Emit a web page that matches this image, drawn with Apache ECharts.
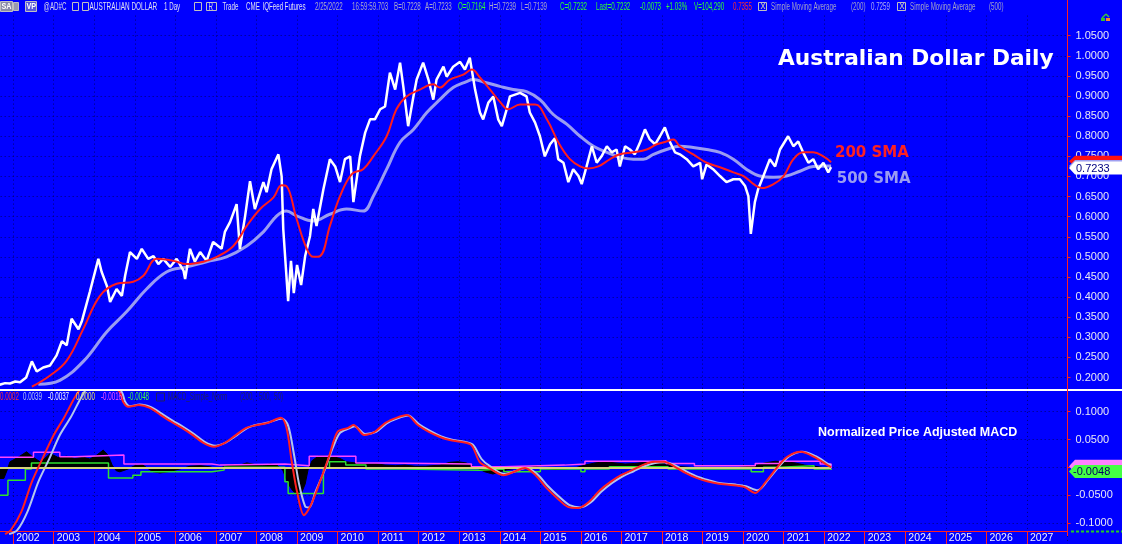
<!DOCTYPE html>
<html><head><meta charset="utf-8">
<script src="https://cdn.jsdelivr.net/npm/echarts@6/dist/echarts.min.js"></script>
<style>html,body{margin:0;padding:0;background:#0000ff;overflow:hidden}#c{width:1122px;height:544px}</style>
</head><body><div id="c"></div>
<script>
// ---------- DATA (decimal year, value) ----------
const price = [[2001.67,0.182],[2001.80,0.186],[2001.92,0.185],[2002.05,0.19],[2002.17,0.188],[2002.32,0.2],[2002.46,0.24],[2002.58,0.215],[2002.74,0.225],[2002.91,0.23],[2003.07,0.255],[2003.20,0.29],[2003.32,0.28],[2003.44,0.346],[2003.61,0.32],[2003.69,0.339],[2003.89,0.413],[2004.10,0.495],[2004.18,0.463],[2004.31,0.428],[2004.39,0.388],[2004.55,0.42],[2004.68,0.403],[2004.76,0.453],[2004.88,0.512],[2005.05,0.495],[2005.17,0.52],[2005.33,0.495],[2005.46,0.502],[2005.58,0.482],[2005.70,0.495],[2005.87,0.475],[2006.03,0.495],[2006.20,0.466],[2006.24,0.445],[2006.36,0.52],[2006.48,0.488],[2006.61,0.512],[2006.77,0.49],[2006.93,0.537],[2007.14,0.52],[2007.22,0.562],[2007.35,0.587],[2007.51,0.631],[2007.59,0.52],[2007.72,0.602],[2007.84,0.688],[2007.96,0.619],[2008.17,0.686],[2008.25,0.661],[2008.37,0.718],[2008.54,0.755],[2008.62,0.70],[2008.66,0.569],[2008.78,0.39],[2008.85,0.49],[2008.92,0.41],[2009.00,0.48],[2009.10,0.43],[2009.20,0.502],[2009.32,0.552],[2009.40,0.619],[2009.48,0.577],[2009.65,0.668],[2009.81,0.743],[2009.94,0.725],[2010.06,0.686],[2010.18,0.743],[2010.31,0.75],[2010.39,0.636],[2010.55,0.75],[2010.68,0.809],[2010.80,0.842],[2010.92,0.842],[2011.05,0.867],[2011.17,0.874],[2011.29,0.958],[2011.42,0.916],[2011.54,0.983],[2011.62,0.924],[2011.74,0.825],[2011.87,0.899],[2011.95,0.941],[2012.11,0.983],[2012.24,0.941],[2012.36,0.891],[2012.44,0.941],[2012.61,0.973],[2012.69,0.948],[2012.85,0.973],[2013.02,0.985],[2013.14,0.966],[2013.26,0.995],[2013.39,0.916],[2013.51,0.859],[2013.59,0.842],[2013.72,0.884],[2013.84,0.899],[2013.96,0.842],[2014.05,0.825],[2014.17,0.867],[2014.25,0.899],[2014.50,0.908],[2014.66,0.899],[2014.74,0.859],[2014.87,0.834],[2014.99,0.80],[2015.11,0.75],[2015.24,0.78],[2015.36,0.795],[2015.44,0.743],[2015.57,0.734],[2015.69,0.686],[2015.81,0.718],[2015.94,0.701],[2016.02,0.681],[2016.14,0.725],[2016.27,0.775],[2016.39,0.734],[2016.51,0.75],[2016.64,0.775],[2016.76,0.76],[2016.88,0.767],[2016.96,0.725],[2017.09,0.775],[2017.21,0.767],[2017.33,0.755],[2017.46,0.785],[2017.58,0.817],[2017.70,0.792],[2017.83,0.78],[2017.95,0.80],[2018.07,0.822],[2018.20,0.785],[2018.32,0.76],[2018.44,0.755],[2018.61,0.743],[2018.77,0.725],[2018.94,0.734],[2018.99,0.693],[2019.10,0.73],[2019.26,0.718],[2019.43,0.701],[2019.59,0.686],[2019.76,0.693],[2019.92,0.693],[2020.05,0.676],[2020.13,0.651],[2020.19,0.557],[2020.29,0.636],[2020.37,0.668],[2020.50,0.701],[2020.66,0.743],[2020.79,0.725],[2020.91,0.767],[2021.11,0.80],[2021.24,0.775],[2021.36,0.787],[2021.48,0.76],[2021.61,0.734],[2021.73,0.743],[2021.85,0.718],[2021.98,0.734],[2022.10,0.71],[2022.17,0.7233]];

const sma200 = [[2002.46,0.177],[2002.91,0.205],[2003.32,0.242],[2003.73,0.321],[2004.14,0.403],[2004.55,0.433],[2004.96,0.438],[2005.21,0.453],[2005.54,0.495],[2005.95,0.49],[2006.28,0.482],[2006.69,0.488],[2007.02,0.50],[2007.43,0.527],[2007.76,0.577],[2008.09,0.619],[2008.42,0.648],[2008.62,0.678],[2008.74,0.676],[2008.99,0.594],[2009.24,0.52],[2009.40,0.50],[2009.57,0.502],[2009.81,0.577],[2010.06,0.651],[2010.35,0.706],[2010.63,0.718],[2010.88,0.75],[2011.21,0.80],[2011.45,0.867],[2011.70,0.899],[2012.03,0.916],[2012.36,0.929],[2012.52,0.921],[2012.77,0.941],[2013.10,0.953],[2013.31,0.966],[2013.51,0.946],[2013.76,0.916],[2014.00,0.886],[2014.21,0.867],[2014.50,0.879],[2014.87,0.879],[2015.16,0.842],[2015.47,0.78],[2015.73,0.743],[2015.98,0.725],[2016.18,0.72],[2016.43,0.725],[2016.72,0.743],[2016.96,0.755],[2017.29,0.76],[2017.62,0.767],[2017.87,0.78],[2018.11,0.787],[2018.28,0.792],[2018.44,0.775],[2018.77,0.755],[2019.10,0.734],[2019.43,0.723],[2019.76,0.71],[2020.01,0.701],[2020.26,0.681],[2020.46,0.671],[2020.75,0.681],[2021.00,0.701],[2021.24,0.743],[2021.48,0.76],[2021.73,0.76],[2021.98,0.75],[2022.17,0.7355]];

const sma500 = [[2002.62,0.183],[2003.15,0.193],[2003.73,0.24],[2004.31,0.314],[2004.80,0.364],[2005.29,0.42],[2005.79,0.463],[2006.28,0.475],[2006.77,0.488],[2007.26,0.50],[2007.76,0.527],[2008.17,0.562],[2008.50,0.602],[2008.74,0.614],[2008.99,0.602],[2009.40,0.589],[2009.81,0.606],[2010.22,0.619],[2010.63,0.614],[2010.88,0.651],[2011.21,0.718],[2011.54,0.785],[2011.87,0.817],[2012.20,0.859],[2012.52,0.891],[2012.85,0.921],[2013.18,0.936],[2013.34,0.941],[2013.67,0.933],[2014.00,0.924],[2014.33,0.916],[2014.66,0.911],[2014.99,0.891],[2015.32,0.854],[2015.65,0.83],[2015.98,0.80],[2016.31,0.775],[2016.64,0.76],[2016.96,0.748],[2017.29,0.743],[2017.54,0.743],[2017.79,0.755],[2018.11,0.767],[2018.44,0.775],[2018.77,0.772],[2019.10,0.767],[2019.43,0.76],[2019.76,0.743],[2020.08,0.718],[2020.41,0.701],[2020.75,0.698],[2021.07,0.701],[2021.40,0.713],[2021.73,0.725],[2022.06,0.726],[2022.17,0.7259]];

const macdLine = [[2001.80,-0.12],[2001.94,-0.113],[2002.20,-0.08],[2002.46,-0.026],[2002.73,0.017],[2003.00,0.058],[2003.26,0.09],[2003.46,0.118],[2003.60,0.135],[2003.89,0.16],[2004.39,0.15],[2004.63,0.135],[2004.71,0.118],[2004.84,0.109],[2005.10,0.112],[2005.37,0.107],[2005.64,0.094],[2005.90,0.082],[2006.16,0.071],[2006.43,0.058],[2006.69,0.044],[2006.95,0.037],[2007.22,0.044],[2007.49,0.058],[2007.75,0.071],[2008.01,0.076],[2008.28,0.08],[2008.60,0.089],[2008.74,0.071],[2008.87,0.01],[2009.00,-0.044],[2009.17,-0.086],[2009.34,-0.068],[2009.60,-0.019],[2009.80,0.022],[2010.00,0.064],[2010.26,0.071],[2010.39,0.076],[2010.66,0.058],[2010.92,0.064],[2011.18,0.08],[2011.45,0.089],[2011.71,0.094],[2011.98,0.076],[2012.24,0.064],[2012.51,0.055],[2012.77,0.049],[2013.03,0.046],[2013.30,0.04],[2013.50,0.01],[2013.69,0.001],[2014.09,-0.014],[2014.35,-0.008],[2014.62,-0.001],[2014.88,-0.014],[2015.15,-0.037],[2015.41,-0.055],[2015.68,-0.071],[2015.94,-0.073],[2016.20,-0.062],[2016.47,-0.041],[2016.73,-0.026],[2016.99,-0.014],[2017.26,-0.005],[2017.52,0.004],[2017.79,0.01],[2018.05,0.01],[2018.32,0.001],[2018.58,-0.01],[2018.85,-0.019],[2019.11,-0.025],[2019.37,-0.029],[2019.77,-0.032],[2020.03,-0.035],[2020.30,-0.046],[2020.56,-0.026],[2020.83,-0.001],[2021.09,0.019],[2021.42,0.028],[2021.75,0.019],[2022.08,0.004],[2022.17,0.0002]];

const signalLine = [[2001.90,-0.12],[2002.10,-0.113],[2002.35,-0.08],[2002.62,-0.026],[2002.90,0.017],[2003.15,0.058],[2003.42,0.09],[2003.62,0.118],[2003.75,0.135],[2004.00,0.16],[2004.45,0.15],[2004.68,0.135],[2004.76,0.118],[2004.88,0.11],[2005.12,0.113],[2005.40,0.108],[2005.67,0.096],[2005.93,0.084],[2006.19,0.073],[2006.46,0.06],[2006.72,0.046],[2006.98,0.039],[2007.25,0.045],[2007.52,0.058],[2007.78,0.071],[2008.04,0.077],[2008.31,0.081],[2008.62,0.088],[2008.78,0.075],[2008.92,0.025],[2009.05,-0.03],[2009.20,-0.07],[2009.30,-0.072],[2009.45,-0.045],[2009.68,-0.005],[2009.88,0.035],[2010.06,0.062],[2010.28,0.07],[2010.42,0.074],[2010.68,0.06],[2010.95,0.064],[2011.21,0.079],[2011.48,0.088],[2011.74,0.093],[2012.00,0.078],[2012.27,0.066],[2012.54,0.056],[2012.80,0.05],[2013.06,0.047],[2013.33,0.041],[2013.55,0.015],[2013.74,0.003],[2014.12,-0.012],[2014.38,-0.007],[2014.65,-0.001],[2014.92,-0.012],[2015.19,-0.034],[2015.45,-0.052],[2015.72,-0.068],[2015.98,-0.072],[2016.24,-0.063],[2016.50,-0.044],[2016.77,-0.028],[2017.03,-0.016],[2017.30,-0.007],[2017.56,0.002],[2017.83,0.008],[2018.09,0.009],[2018.36,0.002],[2018.62,-0.008],[2018.89,-0.017],[2019.15,-0.023],[2019.41,-0.028],[2019.81,-0.031],[2020.07,-0.034],[2020.36,-0.041],[2020.62,-0.022],[2020.88,0.001],[2021.14,0.02],[2021.46,0.028],[2021.79,0.02],[2022.10,0.006],[2022.17,0.0039]];

const histogram = [[2001.67,-0.02],[2001.77,-0.02],[2001.85,-0.005],[2001.92,0.01],[2002.12,0.018],[2002.33,0.028],[2002.46,0.02],[2002.66,0.01],[2002.78,0.016],[2002.91,0.025],[2003.10,0.018],[2003.32,0.02],[2003.52,0.016],[2003.73,0.018],[2003.89,0.015],[2004.06,0.022],[2004.22,0.031],[2004.34,0.022],[2004.44,0.004],[2004.54,-0.006],[2004.63,-0.008],[2004.83,-0.003],[2005.00,0.003],[2005.18,0.005],[2005.32,-0.002],[2005.45,-0.008],[2005.62,-0.01],[2005.82,-0.008],[2005.99,-0.005],[2006.16,-0.002],[2006.36,0.002],[2006.61,0.003],[2006.85,0.001],[2007.05,-0.003],[2007.22,0.002],[2007.40,0.005],[2007.59,0.004],[2007.76,0.008],[2007.96,0.005],[2008.14,0.003],[2008.33,0.006],[2008.50,0.004],[2008.65,-0.005],[2008.75,-0.025],[2008.87,-0.04],[2009.00,-0.05],[2009.10,-0.048],[2009.20,-0.03],[2009.27,-0.005],[2009.37,0.012],[2009.52,0.02],[2009.69,0.02],[2009.89,0.019],[2010.06,0.016],[2010.21,0.01],[2010.43,0.008],[2010.68,0.006],[2010.92,0.007],[2011.17,0.004],[2011.42,0.003],[2011.66,0.004],[2011.91,0.002],[2012.16,0.002],[2012.52,0.004],[2012.77,0.009],[2012.97,0.01],[2013.17,0.008],[2013.31,0.003],[2013.46,-0.002],[2013.63,-0.008],[2013.83,-0.012],[2014.00,-0.008],[2014.20,-0.004],[2014.37,-0.002],[2014.62,-0.003],[2014.87,0.002],[2015.11,-0.002],[2015.36,-0.004],[2015.61,-0.003],[2015.85,-0.001],[2016.10,0.004],[2016.35,0.008],[2016.59,0.01],[2016.84,0.008],[2017.09,0.006],[2017.33,0.007],[2017.58,0.009],[2017.83,0.01],[2018.07,0.006],[2018.32,0.002],[2018.69,0.0],[2018.94,-0.002],[2019.31,-0.001],[2019.67,-0.002],[2020.05,0.001],[2020.29,0.003],[2020.54,0.008],[2020.79,0.011],[2021.03,0.01],[2021.28,0.008],[2021.52,0.004],[2021.77,0.002],[2022.02,-0.001],[2022.17,-0.0037]];

const upperBand = [[2001.67,0.018],[2002.50,0.027],[2003.15,0.019],[2003.52,0.022],[2004.73,0.006],[2006.90,0.004],[2007.10,0.006],[2008.70,0.003],[2009.30,0.02],[2010.45,0.008],[2011.20,0.006],[2013.30,0.001],[2014.10,0.004],[2015.60,0.006],[2016.10,0.011],[2017.80,0.012],[2018.10,0.007],[2018.80,0.003],[2020.30,0.007],[2020.90,0.011],[2021.90,0.006],[2022.17,-0.0016]];

const lowerBand = [[2001.67,-0.05],[2001.87,-0.023],[2002.30,-0.003],[2002.45,0.008],[2004.35,-0.019],[2004.95,-0.014],[2005.15,-0.008],[2006.90,-0.005],[2007.20,0.0],[2008.70,-0.026],[2008.78,-0.047],[2009.65,-0.001],[2009.80,0.01],[2010.20,0.004],[2010.70,-0.003],[2011.60,-0.005],[2013.50,-0.003],[2014.10,-0.008],[2015.00,-0.003],[2016.00,-0.008],[2016.10,-0.003],[2016.70,0.001],[2018.15,-0.003],[2020.20,-0.008],[2020.50,0.0],[2020.90,0.003],[2021.75,-0.003],[2022.17,-0.0048]];

const lastValues = {price:0.7233, sma200:0.7355, sma500:0.7259, lower:-0.0048, upper:-0.0016};
const yearRange = [2001, 2028];

// ---------- CHART ----------
const chart = echarts.init(document.getElementById('c'));
const gridCol = '#000070';
const axisRed = '#ff2020';
const L = -27.35, R = 54.5;
const dotted = {color:gridCol, type:[1,3], width:1};
const xCommon = {type:'value', min:yearRange[0], max:yearRange[1], interval:1,
  axisLine:{show:false}, axisTick:{show:false}, axisLabel:{show:false},
  splitLine:{show:true, lineStyle:dotted}};
const yLab = {color:'#e8e8f4', fontSize:11, fontFamily:'Liberation Sans, Arial, sans-serif', margin:8,
  showMinLabel:false, showMaxLabel:false, formatter:v=>v.toFixed(4)};
const histStart = histogram[0][0], histEnd = histogram[histogram.length-1][0];
chart.setOption({
  backgroundColor:'#0000ff',
  animation:false,
  grid:[
    {left:L, right:R, top:15.6, height:382, outerBoundsMode:'none'},
    {left:L, right:R, top:383.9, height:166.9, outerBoundsMode:'none'},
    {left:L, right:R, top:530, height:1, outerBoundsMode:'none'}
  ],
  xAxis:[
    Object.assign({gridIndex:0}, xCommon),
    Object.assign({gridIndex:1}, xCommon),
    {gridIndex:2, type:'value', min:yearRange[0], max:yearRange[1], interval:1, position:'bottom',
     axisLine:{show:true, lineStyle:{color:axisRed, width:1}},
     axisTick:{show:true, length:13, lineStyle:{color:axisRed}},
     axisLabel:{show:true, color:'#f0f0ff', fontSize:10.5, fontFamily:'Liberation Sans, Arial, sans-serif',
       align:'left', verticalAlign:'top', padding:[0,0,0,3], margin:2, showMinLabel:false, showMaxLabel:false,
       formatter:v=>String(Math.round(v))},
     splitLine:{show:false}}
  ],
  yAxis:[
    {gridIndex:0, type:'value', position:'right', min:0.15, max:1.1, interval:0.05,
     axisLine:{show:false}, axisTick:{show:true, length:3, lineStyle:{color:axisRed}},
     axisLabel:yLab,
     splitLine:{show:true, showMinLine:false, showMaxLine:false, lineStyle:dotted}},
    {gridIndex:1, type:'value', position:'right', min:-0.15, max:0.15, interval:0.05,
     axisLine:{show:false}, axisTick:{show:true, length:3, lineStyle:{color:axisRed}},
     axisLabel:yLab,
     splitLine:{show:true, showMinLine:false, showMaxLine:false, lineStyle:dotted}},
    {gridIndex:2, type:'value', show:false}
  ],
  series:[
    {name:'500 SMA', type:'line', xAxisIndex:0, yAxisIndex:0, data:sma500, showSymbol:false, smooth:0.4,
     lineStyle:{color:'#9a9cf2', width:3}, z:2},
    {name:'Price', type:'line', xAxisIndex:0, yAxisIndex:0, data:price, showSymbol:false,
     lineStyle:{color:'#ffffff', width:2.5}, z:3},
    {name:'200 SMA', type:'line', xAxisIndex:0, yAxisIndex:0, data:sma200, showSymbol:false, smooth:0.4,
     lineStyle:{color:'#ff1c1c', width:2}, z:4},
    {name:'Hist', type:'line', xAxisIndex:1, yAxisIndex:1, data:histogram, showSymbol:false,
     lineStyle:{color:'#000000', width:1}, areaStyle:{color:'#000000', origin:0, opacity:1}, z:2,
     markLine:{silent:true, symbol:'none', label:{show:false},
       data:[[{coord:[histStart,0]},{coord:[histEnd,0]}]],
       lineStyle:{color:'#d6d27a', width:2, type:'solid'}}},
    {name:'Upper', type:'line', xAxisIndex:1, yAxisIndex:1, data:upperBand, step:'end', showSymbol:false,
     lineStyle:{color:'#ff44ff', width:1.5}, z:3},
    {name:'Lower', type:'line', xAxisIndex:1, yAxisIndex:1, data:lowerBand, step:'end', showSymbol:false,
     lineStyle:{color:'#2ee02e', width:1.5}, z:3},
    {name:'Signal', type:'line', xAxisIndex:1, yAxisIndex:1, data:signalLine, showSymbol:false, smooth:0.3,
     lineStyle:{color:'#b4c6ec', width:2}, z:4},
    {name:'MACD', type:'line', xAxisIndex:1, yAxisIndex:1, data:macdLine, showSymbol:false, smooth:0.3,
     lineStyle:{color:'#ff2020', width:2}, z:5}
  ]
});

// ---------- OVERLAY GRAPHICS ----------
const G = [];
const HF = '10px Liberation Sans, Arial, sans-serif';
function txt(t, x, y, color, font, extra){
  G.push(Object.assign({type:'text', x:x, y:y, z:120,
    style:{text:t, fill:color, font:font, verticalAlign:'middle', textVerticalAlign:'middle'}}, extra||{}));
}
function rect(x, y, w, h, fill, stroke, z){
  G.push({type:'rect', z:z||110, shape:{x:x, y:y, width:w, height:h}, style:{fill:fill||'none', stroke:stroke||null, lineWidth:1}});
}
function line(x1, y1, x2, y2, color, w, dash, z){
  G.push({type:'line', z:z||115, shape:{x1:x1, y1:y1, x2:x2, y2:y2}, style:{stroke:color, lineWidth:w, lineDash:dash||null}});
}
function marker(cy, h, fill, z){
  G.push({type:'polygon', z:z, shape:{points:[[1069,cy],[1075,cy-h/2],[1122,cy-h/2],[1122,cy+h/2],[1075,cy+h/2]]}, style:{fill:fill}});
}
// mask MACD overflow above its panel; blank header strip
rect(64, 382, 78, 7.5, '#0000ff', null, 100);
rect(0, 0, 1067, 15, '#0000ff', null, 100);
// separator and axis line
line(0, 390, 1122, 390, '#ffffff', 2, null, 118);
line(1067.5, 0, 1067.5, 536, axisRed, 1, null, 118);
line(1071, 531.5, 1122, 531.5, '#22d022', 2, [3,2], 118);

// header
const sc = {scaleX:0.62};
rect(0.5, 1.5, 12, 10, '#8a8aa8', '#c0c0c0');
txt('SA', 1.5, 7, '#ffffff', 'bold 9px Liberation Sans, Arial', {scaleX:0.8});
rect(13.5, 2.5, 5, 8, '#9a9ab0', '#c0c0c0');
rect(25.5, 1.5, 11, 10, '#5a5ad8', '#c0c0c0');
txt('VP', 26.5, 7, '#ffffff', 'bold 9px Liberation Sans, Arial', {scaleX:0.8});
txt('@AD#C', 43.6, 7, '#d8d8e8', HF, sc);
rect(72.5, 2.5, 6, 8, 'none', '#c0c0c0');
rect(82.5, 2.5, 6, 8, 'none', '#c0c0c0');
txt('AUSTRALIAN DOLLAR', 89.5, 7, '#e0e0f0', HF, {scaleX:0.64});
txt('1 Day', 164, 7, '#e0e0f0', HF, sc);
rect(194.5, 2.5, 7, 8, 'none', '#c0c0c0');
rect(206.5, 2.5, 10, 8, 'none', '#c0c0c0');
txt('R', 208.5, 7, '#d0d0e0', HF, sc);
const headerTokens = [
  ['Trade',222.5,'#e0e0f0'],['CME',246,'#e0e0f0'],['IQFeed',262.5,'#e0e0f0'],['Futures',284.6,'#e0e0f0'],
  ['2/25/2022',315,'#a8a8c8'],['16:59:59.703',352,'#a8a8c8'],['B=0.7228',394,'#a8a8c8'],['A=0.7233',425,'#a8a8c8'],
  ['O=0.7164',458,'#30ff30'],['H=0.7239',489,'#a8a8c8'],['L=0.7139',521,'#a8a8c8'],
  ['C=0.7232',560,'#30ff30'],['Last=0.7232',596,'#30ff30'],['-0.0073',640,'#30ff30'],['+1.03%',666,'#30ff30'],['V=104,290',694,'#30ff30'],
  ['0.7355',733,'#ff3030'],['Simple Moving Average',771,'#a0a0c8'],['(200)',851,'#a0a0c8'],
  ['0.7259',871,'#b0b0f0'],['Simple Moving Average',910,'#a0a0c8'],['(500)',989,'#a0a0c8']
];
headerTokens.forEach(t => txt(t[0], t[1], 7, t[2], HF, sc));
rect(758.5, 2.5, 8, 8, 'none', '#c0c0c0');
txt('x', 760.5, 6.5, '#c0c0c0', HF);
rect(897.5, 2.5, 8, 8, 'none', '#c0c0c0');
txt('x', 899.5, 6.5, '#c0c0c0', HF);
// small icon top-right
line(1102, 18, 1106, 14, '#40c040', 1.5);
line(1106, 14, 1109, 17, '#40c040', 1.5);
rect(1101, 18, 4, 3, '#30c030', null, 116);
rect(1106, 18, 4, 3, '#ff8030', null, 116);

// MACD legend
const macdTokens = [['0.0002',0,'#ff3030'],['0.0039',23,'#b8c8f0'],['-0.0037',48,'#ffffff'],['0.0000',76,'#e8e870'],
  ['-0.0016',101,'#ff50ff'],['-0.0048',128,'#40ff40'],['MACD_Simple_Norm',168,'#202060'],['(200,',240,'#202060'],['500,',259,'#202060'],['50)',274,'#202060']];
macdTokens.forEach(t => txt(t[0], t[1], 397, t[2], HF, sc));
rect(156.5, 393, 8, 8, 'none', '#202060');

// annotations
txt('Australian Dollar Daily', 778, 59, '#ffffff', 'bold 21.7px DejaVu Sans, Verdana, sans-serif');
txt('200 SMA', 835, 153.5, '#ff2020', 'bold 15px DejaVu Sans, Verdana, sans-serif');
txt('500 SMA', 836.7, 179.3, '#9a9cf2', 'bold 15px DejaVu Sans, Verdana, sans-serif');
txt('Normalized Price Adjusted MACD', 818, 433, '#ffffff', 'bold 12.5px Liberation Sans, Arial, sans-serif');

// last value markers, positioned through the axes
const yP = chart.convertToPixel({yAxisIndex:0}, lastValues.price);
const y200 = chart.convertToPixel({yAxisIndex:0}, lastValues.sma200);
const y500 = chart.convertToPixel({yAxisIndex:0}, lastValues.sma500);
const yLow = chart.convertToPixel({yAxisIndex:1}, lastValues.lower);
const yUp = chart.convertToPixel({yAxisIndex:1}, lastValues.upper);
marker(y200 - 1, 11, '#ff1010', 111);
marker(y500, 12, '#a0a0f0', 112);
marker(yP + 1, 13, '#ffffff', 113);
txt(lastValues.price.toFixed(4), 1076, yP + 1.5, '#000080', '11px Liberation Sans, Arial');
marker(yUp - 2, 13, '#ff80ff', 111);
marker(yLow + 1.5, 13, '#44ff44', 113);
txt(lastValues.lower.toFixed(4), 1073, yLow + 2, '#000060', '11px Liberation Sans, Arial');

chart.setOption({graphic:{elements:G}});
</script>
</body></html>
